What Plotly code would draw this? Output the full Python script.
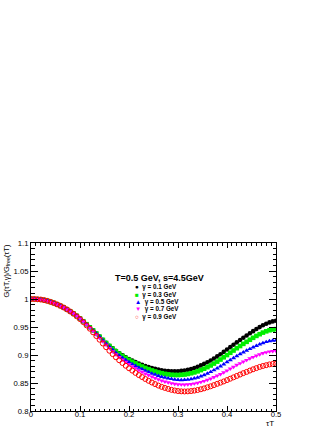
import plotly.graph_objs as go

# tau*T grid (76 points between 0 and 0.5)
tauT = [round(i / 150, 4) for i in range(76)]

g01 = [1.0000, 1.0000, 0.9996, 0.9990, 0.9980, 0.9966, 0.9948, 0.9928, 0.9904, 0.9877,
       0.9848, 0.9815, 0.9780, 0.9741, 0.9698, 0.9652, 0.9603, 0.9550, 0.9495, 0.9440,
       0.9384, 0.9328, 0.9272, 0.9218, 0.9166, 0.9118, 0.9073, 0.9032, 0.8995, 0.8960,
       0.8928, 0.8899, 0.8872, 0.8847, 0.8824, 0.8803, 0.8784, 0.8767, 0.8752, 0.8739,
       0.8728, 0.8720, 0.8714, 0.8710, 0.8709, 0.8711, 0.8716, 0.8724, 0.8736, 0.8751,
       0.8769, 0.8790, 0.8814, 0.8841, 0.8871, 0.8903, 0.8938, 0.8975, 0.9014, 0.9055,
       0.9097, 0.9140, 0.9183, 0.9226, 0.9268, 0.9309, 0.9348, 0.9388, 0.9426, 0.9463,
       0.9498, 0.9530, 0.9558, 0.9582, 0.9600, 0.9612]

g03 = [1.0000, 1.0000, 0.9996, 0.9990, 0.9980, 0.9966, 0.9948, 0.9928, 0.9904, 0.9877,
       0.9848, 0.9815, 0.9780, 0.9741, 0.9698, 0.9652, 0.9603, 0.9550, 0.9495, 0.9440,
       0.9384, 0.9326, 0.9269, 0.9214, 0.9161, 0.9111, 0.9065, 0.9022, 0.8983, 0.8947,
       0.8913, 0.8881, 0.8850, 0.8822, 0.8795, 0.8769, 0.8746, 0.8725, 0.8706, 0.8689,
       0.8675, 0.8663, 0.8654, 0.8647, 0.8644, 0.8643, 0.8646, 0.8651, 0.8661, 0.8674,
       0.8689, 0.8708, 0.8730, 0.8755, 0.8783, 0.8813, 0.8847, 0.8882, 0.8919, 0.8959,
       0.8999, 0.9040, 0.9080, 0.9121, 0.9160, 0.9199, 0.9235, 0.9272, 0.9307, 0.9341,
       0.9372, 0.9400, 0.9423, 0.9442, 0.9455, 0.9462]

g05 = [1.0000, 1.0000, 0.9996, 0.9990, 0.9980, 0.9966, 0.9948, 0.9928, 0.9904, 0.9877,
       0.9848, 0.9815, 0.9780, 0.9741, 0.9698, 0.9652, 0.9603, 0.9550, 0.9494, 0.9438,
       0.9381, 0.9323, 0.9262, 0.9203, 0.9146, 0.9091, 0.9040, 0.8992, 0.8950, 0.8910,
       0.8873, 0.8839, 0.8807, 0.8777, 0.8747, 0.8720, 0.8694, 0.8670, 0.8649, 0.8629,
       0.8611, 0.8597, 0.8584, 0.8572, 0.8562, 0.8556, 0.8554, 0.8556, 0.8561, 0.8570,
       0.8582, 0.8597, 0.8618, 0.8641, 0.8668, 0.8697, 0.8729, 0.8763, 0.8798, 0.8835,
       0.8872, 0.8908, 0.8945, 0.8981, 0.9015, 0.9047, 0.9078, 0.9108, 0.9136, 0.9163,
       0.9190, 0.9213, 0.9233, 0.9249, 0.9258, 0.9262]

g07 = [1.0000, 1.0000, 0.9996, 0.9990, 0.9980, 0.9966, 0.9948, 0.9928, 0.9904, 0.9877,
       0.9848, 0.9815, 0.9780, 0.9741, 0.9698, 0.9649, 0.9598, 0.9543, 0.9485, 0.9425,
       0.9364, 0.9303, 0.9240, 0.9180, 0.9121, 0.9065, 0.9011, 0.8962, 0.8918, 0.8875,
       0.8836, 0.8798, 0.8763, 0.8729, 0.8697, 0.8667, 0.8639, 0.8612, 0.8587, 0.8564,
       0.8543, 0.8525, 0.8509, 0.8495, 0.8484, 0.8476, 0.8472, 0.8471, 0.8474, 0.8480,
       0.8490, 0.8502, 0.8517, 0.8535, 0.8556, 0.8578, 0.8603, 0.8630, 0.8659, 0.8690,
       0.8722, 0.8755, 0.8788, 0.8821, 0.8852, 0.8882, 0.8910, 0.8938, 0.8963, 0.8988,
       0.9011, 0.9032, 0.9048, 0.9062, 0.9070, 0.9072]

g09 = [1.0000, 1.0000, 0.9996, 0.9990, 0.9980, 0.9966, 0.9948, 0.9928, 0.9904, 0.9877,
       0.9848, 0.9815, 0.9777, 0.9736, 0.9691, 0.9642, 0.9588, 0.9530, 0.9470, 0.9405,
       0.9339, 0.9273, 0.9205, 0.9140, 0.9076, 0.9016, 0.8960, 0.8907, 0.8857, 0.8808,
       0.8763, 0.8721, 0.8680, 0.8642, 0.8606, 0.8571, 0.8539, 0.8509, 0.8480, 0.8454,
       0.8431, 0.8412, 0.8394, 0.8378, 0.8366, 0.8356, 0.8351, 0.8349, 0.8351, 0.8356,
       0.8364, 0.8375, 0.8388, 0.8404, 0.8423, 0.8441, 0.8462, 0.8485, 0.8506, 0.8528,
       0.8552, 0.8577, 0.8601, 0.8626, 0.8651, 0.8676, 0.8698, 0.8722, 0.8745, 0.8766,
       0.8787, 0.8804, 0.8818, 0.8832, 0.8840, 0.8842]

names = ["γ = 0.1 GeV", "γ = 0.3 GeV", "γ = 0.5 GeV", "γ = 0.7 GeV", "γ = 0.9 GeV"]
series = [g01, g03, g05, g07, g09]
colors = ["#000000", "#00ee00", "#0000ff", "#ff00ff", "#ff0000"]
symbols = ["circle", "square", "triangle-up", "triangle-down", "circle-open"]
glyphs = ["●", "■", "▲", "▼", "○"]

traces = []
for name, vals, col, sym in zip(names, series, colors, symbols):
    traces.append(go.Scatter(
        x=tauT, y=vals, mode="markers", name=name,
        marker=dict(symbol=sym, color=col, size=5 if sym == "circle-open" else 4.6,
                    line=dict(width=1 if sym == "circle-open" else 0, color=col))
    ))

font = "Liberation Sans, Arial, sans-serif"

axis_common = dict(
    showline=True, linecolor="black", linewidth=1, mirror="ticks",
    ticks="inside", tickcolor="black", showgrid=False, zeroline=False,
    automargin=False,
    tickfont=dict(family=font, size=7.7, color="black"),
)

# legend drawn as text rows (compact, like the original)
ann = [
    dict(text="<b>T=0.5 GeV, s=4.5GeV</b>", x=0.524, y=0.833, xref="paper", yref="paper",
         showarrow=False, font=dict(family=font, size=9, color="black")),
    dict(text="G(τT,γ)/G<sub>free</sub>(τT)", x=0, y=1, xref="paper", yref="paper",
         xanchor="right", yanchor="top", xshift=-18, textangle=-90, showarrow=False,
         font=dict(family=font, size=7.5, color="black")),
    dict(text="τT", x=1, y=0, xref="paper", yref="paper", xanchor="right", yanchor="top",
         yshift=-6, showarrow=False, font=dict(family=font, size=8, color="black")),
]
for k, (name, col, gl) in enumerate(zip(names, colors, glyphs)):
    ann.append(dict(
        text='<span style="color:%s">%s</span>  <b>%s</b>' % (col, gl, name),
        x=(133 - 31) / 245, y=(411 - 287.3 - 7.35 * k) / 168, xref="paper", yref="paper",
        xanchor="left", yanchor="middle", showarrow=False,
        font=dict(family=font, size=6.3, color="black")))

layout = go.Layout(
    width=332, height=430,
    margin=dict(l=31, r=56, t=243, b=19),
    paper_bgcolor="white", plot_bgcolor="white",
    showlegend=False,
    xaxis=dict(range=[0, 0.5], dtick=0.1, ticklen=5, ticklabelstandoff=-4,
               minor=dict(ticks="inside", ticklen=2.5, dtick=0.01, tickcolor="black"),
               **axis_common),
    yaxis=dict(range=[0.8, 1.1], dtick=0.05, ticklen=7,
               minor=dict(ticks="inside", ticklen=3.5, dtick=0.01, tickcolor="black"),
               **axis_common),
    annotations=ann,
)

fig = go.Figure(data=traces, layout=layout)
# drop the default body margin so the figure fills the window exactly
fig.write_html("out.html", config={"displayModeBar": False},
               post_script="document.body.style.margin = '0';")
